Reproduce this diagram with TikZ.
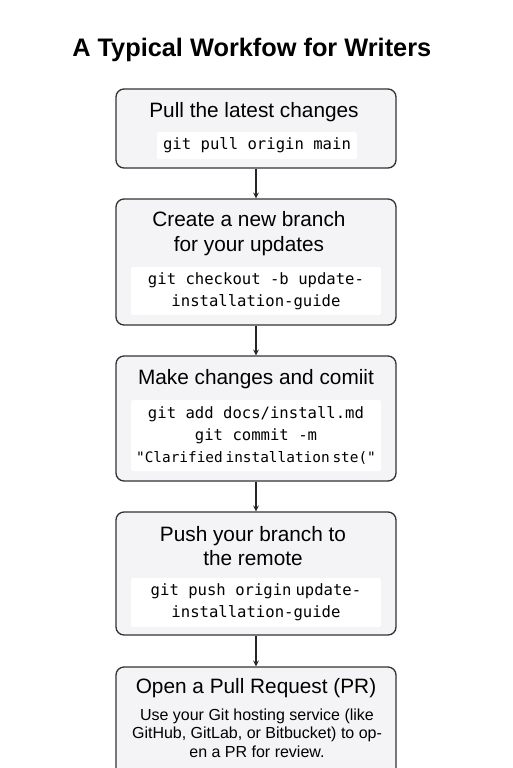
\documentclass[tikz,border=0pt]{standalone}
\usepackage{fontspec}
\setmainfont{Liberation Sans}
\setmonofont{DejaVu Sans Mono}
\usepackage{xcolor}
\definecolor{boxfill}{HTML}{F4F4F6}
\definecolor{boxline}{HTML}{333333}

\begin{document}
\begin{tikzpicture}[x=0.75pt,y=-0.75pt,>=stealth,
	stepbox/.style={draw=boxline, fill=boxfill, line width=1pt, rounded corners=6pt, minimum width=210pt, inner sep=0pt},
	codebox/.style={fill=white, rounded corners=1.5pt, align=center, inner sep=0pt, font=\ttfamily\fontsize{11.7}{16.3}\selectfont},
	steptitle/.style={align=center, inner sep=0pt, font=\fontsize{15.6}{18.5}\selectfont},
	flow/.style={->, line width=0.9pt, draw=black!85}]
		%page
		\useasboundingbox (0,0) rectangle (512,768);
		\fill[white] (0,0) rectangle (512,768);

		%heading
		\node[anchor=west, inner sep=0pt, font=\bfseries\fontsize{19}{22}\selectfont] (heading) at (72,50) {A Typical Workfow for Writers};

		%outer boxes
		\node[stepbox, minimum height=59.25pt] (pull) at (256,128.5) {};
		\node[stepbox, minimum height=94.5pt] (branch) at (256,262) {};
		\node[stepbox, minimum height=93.75pt] (commit) at (256,418.5) {};
		\node[stepbox, minimum height=92.25pt] (push) at (256,573.5) {};
		\node[stepbox, minimum height=105pt] (pr) at (256,737) {};

		%titles
		\node[steptitle] (pulltitle) at (254,112) {Pull the latest changes};
		\node[steptitle] (branchtitle) at (249,233.5) {Create a new branch\\for your updates};
		\node[steptitle] (committitle) at (256,379) {Make changes and comiit};
		\node[steptitle] (pushtitle) at (253,546) {Push your branch to\\the remote};
		\node[steptitle] (prtitle) at (256,688) {Open a Pull Request (PR)};

		%commands
		\node[codebox, minimum width=150pt, minimum height=20.25pt] (pullcode) at (257,145.5) {git pull origin main};
		\node[codebox, minimum width=187.5pt, minimum height=36pt] (branchcode) at (256,291) {git checkout -b update-\\installation-guide};
		\node[codebox, minimum width=187.5pt, minimum height=53.25pt] (commitcode) at (256,435.5) {git add docs/install.md\\git commit -m\\{\fontsize{10.8}{16.3}\selectfont"Clarified\hspace{0.2em}installation\hspace{0.2em}ste("}};
		\node[codebox, minimum width=187.5pt, minimum height=36.75pt] (pushcode) at (256,602.5) {git push origin\hspace{0.25em}update-\\installation-guide};
		\node[align=center, inner sep=0pt, font=\fontsize{12}{14}\selectfont] (prtext) at (257,733) {Use your Git hosting service (like\\GitHub, GitLab, or Bitbucket) to op-\\en a PR for review.};

		%arrows
		\draw[flow] (pull) -- (branch);
		\draw[flow] (branch) -- (commit);
		\draw[flow] (commit) -- (push);
		\draw[flow] (push) -- (pr);
\end{tikzpicture}
\end{document}
